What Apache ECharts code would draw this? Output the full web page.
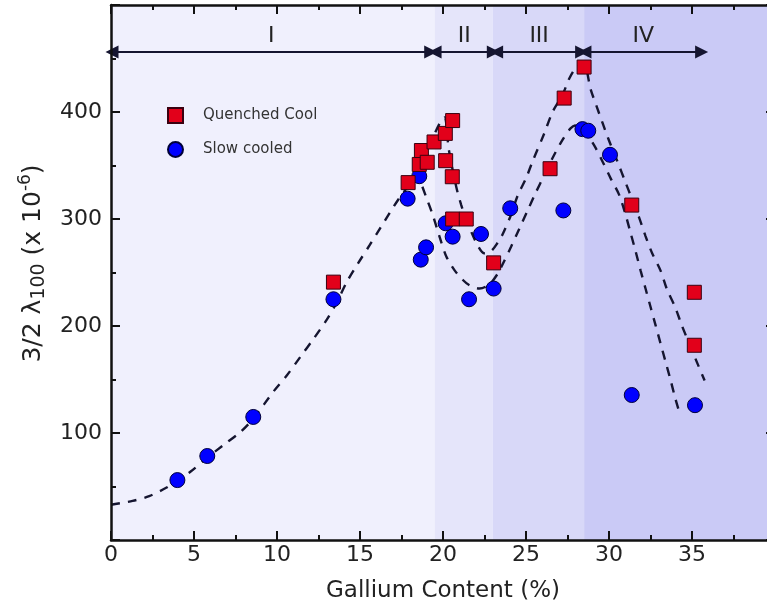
<!DOCTYPE html>
<html>
<head>
<meta charset="UTF-8">
<title>Gallium content</title>
<script src="https://cdn.jsdelivr.net/npm/echarts@6/dist/echarts.min.js"></script>
<style>html,body{margin:0;padding:0;background:#fff;}</style>
</head>
<body>
<div id="main" style="width:767px;height:607px;"></div>
<script type="text/javascript">
// values
var quenchX = [13.4, 17.9, 18.57, 18.7, 19.05, 19.46, 20.14, 20.58, 20.16, 20.56, 20.58, 21.4, 23.05, 26.45, 27.3, 28.5, 31.37, 35.14, 35.14];
var quenchY = [241, 334, 351, 364, 353, 372, 380, 392, 354.5, 339.5, 300, 300, 259, 347, 413, 442, 313, 231.5, 182];

var slowX = [4.0, 5.8, 8.57, 13.4, 17.87, 18.57, 18.66, 18.98, 20.16, 20.58, 21.57, 22.29, 23.05, 24.05, 27.25, 28.4, 28.75, 30.06, 31.37, 35.18];
var slowY = [56, 78.5, 115, 225, 319, 340, 262, 273.5, 296, 283.5, 225, 286, 235, 310, 308, 384, 382.5, 360, 135.5, 126];

// dashed guide curves, traced along the dashes
var fitUpperX = [0.0, 1.3, 2.3, 3.35, 4.0, 4.8, 5.8, 6.8, 7.8, 8.6, 9.8, 10.6, 11.4, 12.2, 13.0, 13.6, 14.2, 14.9, 15.6, 16.2, 16.8, 17.3, 17.9, 18.5, 19.0, 19.5, 19.9, 20.1, 20.35, 20.8, 21.1, 21.4, 21.97, 22.5, 22.9, 23.3, 23.6, 24.1, 24.5, 25.0, 25.4, 26.1, 26.6, 27.2, 27.6, 27.95, 28.45, 28.9, 29.26, 29.96, 30.5, 31.0, 31.4, 31.8, 32.2, 32.6, 33.1, 33.5, 34.0, 34.4, 34.85, 35.3, 35.76];
var fitUpperY = [33, 36.5, 41, 49, 56, 64, 77, 89, 101, 114, 139, 154, 171, 188, 206, 222, 241, 259, 276, 291, 306, 318, 331, 348, 364, 380, 392, 395, 365, 330, 313, 300, 279, 268, 270, 278, 286, 304, 322, 338, 354, 380, 400, 416, 431, 440, 446, 421, 405, 375, 354, 334, 318, 302, 284, 268, 252, 234, 217, 200, 183, 166, 149];

var fitLowerX = [18.4, 19.0, 19.4, 19.8, 20.2, 20.7, 21.2, 21.6, 22.2, 22.8, 23.3, 23.6, 24.1, 24.6, 25.1, 25.6, 26.1, 26.6, 27.2, 27.7, 28.1, 28.5, 29.1, 29.6, 30.1, 30.6, 31.0, 31.3, 31.6, 31.9, 32.2, 32.5, 32.8, 33.1, 33.4, 33.7, 34.0, 34.3];
var fitLowerY = [345, 320, 303, 283, 265, 252, 243, 238, 235, 239, 249, 258, 274, 291, 308, 325, 341, 357, 374, 385, 388, 383, 369, 354, 338, 323, 304, 287, 270, 252, 235, 218, 201, 184, 167, 150, 132, 116];

// composition regions
var regionEdges = [0, 19.5, 23.0, 28.5, 40];
var regionColors = ['#f0f0fd', '#e5e5fa', '#d8d8f8', '#cacaf6'];
var regionNames = ['I', 'II', 'III', 'IV'];
var arrowFrom = [0.06, 19.52, 23.23, 28.55];
var arrowTo = [19.26, 23.03, 28.35, 35.58];
var arrowY = 456;

var xTicks = [0, 5, 10, 15, 20, 25, 30, 35];
var yTicks = [100, 200, 300, 400];

function pairs(xs, ys) {
    var out = [];
    for (var i = 0; i < xs.length; i++) out.push([xs[i], ys[i]]);
    return out;
}

var FONT = 'DejaVu Sans';
var INK = '#151530';

var bands = [];
for (var i = 0; i < regionNames.length; i++) {
    bands.push([{ xAxis: regionEdges[i], itemStyle: { color: regionColors[i] } }, { xAxis: regionEdges[i + 1] }]);
}
var arrows = [];
for (var j = 0; j < regionNames.length; j++) {
    arrows.push([{ coord: [arrowFrom[j], arrowY], name: regionNames[j] }, { coord: [arrowTo[j], arrowY] }]);
}

var axisCommon = {
    type: 'value',
    z: 10,
    axisLine: { show: true, onZero: false, lineStyle: { color: '#111', width: 2.5 } },
    axisTick: { show: true, inside: true, length: 9, lineStyle: { color: '#111', width: 2 } },
    minorTick: { show: true, splitNumber: 2, length: 5, lineStyle: { color: '#111', width: 2 } },
    splitLine: { show: false }
};

var myChart = echarts.init(document.getElementById('main'));
myChart.setOption({
    animation: false,
    backgroundColor: '#fff',
    textStyle: { fontFamily: FONT },
    grid: { left: 111, top: 5, width: 664, height: 535, outerBoundsMode: 'none', containLabel: false },
    legend: {
        data: ['Quenched Cool', 'Slow cooled'],
        orient: 'vertical',
        left: 162,
        top: 102,
        itemWidth: 15,
        itemHeight: 15,
        itemGap: 17,
        textStyle: { fontSize: 15, color: '#333', fontFamily: FONT, padding: [0, 0, 0, 15] }
    },
    xAxis: [
        Object.assign({}, axisCommon, {
            min: 0, max: 40, interval: 5, position: 'bottom',
            name: 'Gallium Content (%)', nameLocation: 'middle', nameGap: 40,
            nameTextStyle: { fontSize: 23, color: '#222', fontFamily: FONT },
            axisLabel: {
                fontSize: 22, color: '#222', margin: 4, showMaxLabel: false,
                formatter: function (v) { return xTicks.indexOf(v) >= 0 ? String(v) : ''; }
            }
        }),
        Object.assign({}, axisCommon, {
            min: 0, max: 40, interval: 5, position: 'top', axisLabel: { show: false }
        })
    ],
    yAxis: [
        Object.assign({}, axisCommon, {
            min: 0, max: 500, interval: 100, position: 'left',
            name: '3/2 λ{sub|100} (x 10{sup|-6})', nameLocation: 'middle', nameGap: 62, nameRotate: 90,
            nameTextStyle: {
                fontSize: 25, color: '#222', fontFamily: FONT, lineHeight: 32, padding: [0, 0, 0, 18],
                rich: {
                    sub: { fontSize: 19, color: '#222', fontFamily: FONT, verticalAlign: 'bottom', lineHeight: 20 },
                    sup: { fontSize: 17, color: '#222', fontFamily: FONT, verticalAlign: 'top', lineHeight: 18 }
                }
            },
            axisLabel: {
                fontSize: 22, color: '#222', margin: 9,
                formatter: function (v) { return yTicks.indexOf(v) >= 0 ? String(v) : ''; }
            }
        }),
        Object.assign({}, axisCommon, {
            min: 0, max: 500, interval: 100, position: 'right', axisLabel: { show: false }
        })
    ],
    series: [
        {
            name: 'bands', type: 'line', data: [], z: 0, silent: true,
            markArea: { silent: true, data: bands }
        },
        {
            name: 'fitUpper', type: 'line', data: pairs(fitUpperX, fitUpperY), z: 2,
            smooth: 0.3, showSymbol: false, silent: true,
            lineStyle: { color: INK, width: 2.4, type: [9, 8] }
        },
        {
            name: 'fitLower', type: 'line', data: pairs(fitLowerX, fitLowerY), z: 2,
            smooth: 0.3, showSymbol: false, silent: true,
            lineStyle: { color: INK, width: 2.4, type: [9, 8] }
        },
        {
            name: 'arrows', type: 'line', data: [], z: 4, silent: true,
            markLine: {
                silent: true,
                symbol: ['triangle', 'triangle'],
                symbolSize: 13,
                lineStyle: { color: INK, width: 2, type: 'solid' },
                label: {
                    show: true, position: 'insideMiddleTop', distance: 5,
                    formatter: '{b}', fontSize: 22, color: '#222', fontFamily: FONT
                },
                data: arrows
            }
        },
        {
            name: 'Slow cooled', type: 'scatter', data: pairs(slowX, slowY), z: 5,
            symbol: 'circle', symbolSize: 15,
            itemStyle: { color: '#0000ff', borderColor: '#00003a', borderWidth: 1, opacity: 1 }
        },
        {
            name: 'Quenched Cool', type: 'scatter', data: pairs(quenchX, quenchY), z: 6,
            symbol: 'rect', symbolSize: 14,
            itemStyle: { color: '#e2001a', borderColor: '#3a0010', borderWidth: 1, opacity: 1 }
        }
    ]
});
</script>
</body>
</html>
